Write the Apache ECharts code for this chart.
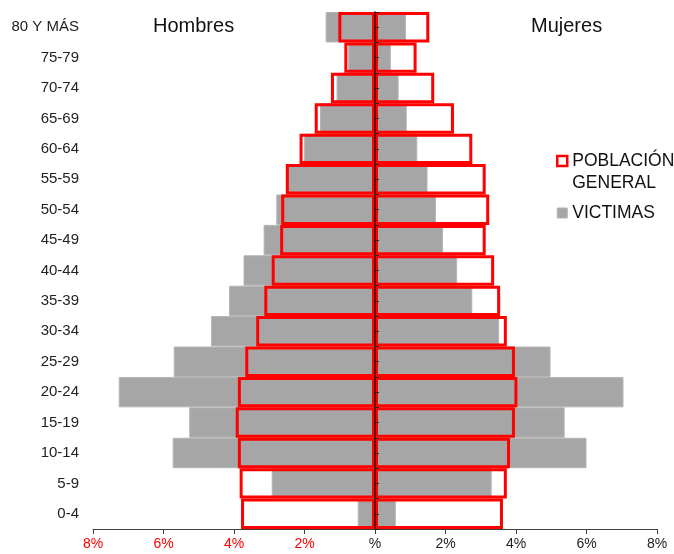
<!DOCTYPE html>
<html>
<head>
<meta charset="utf-8">
<script src="https://cdn.jsdelivr.net/npm/echarts@6/dist/echarts.min.js"></script>
<style>
html,body{margin:0;padding:0;background:#fff;}
#chart{width:674px;height:554px;}
</style>
</head>
<body>
<div id="chart"></div>
<script>
// Age groups, bottom to top
var categories = ['0-4','5-9','10-14','15-19','20-24','25-29','30-34','35-39','40-44','45-49','50-54','55-59','60-64','65-69','70-74','75-79','80 Y MÁS'];
// Percentages (men shown to the left)
var victimasHombres   = [0.49, 2.93, 5.74, 5.27, 7.27, 5.71, 4.65, 4.14, 3.73, 3.16, 2.80, 2.50, 2.01, 1.56, 1.09, 0.76, 1.40];
var victimasMujeres   = [0.59, 3.31, 6.00, 5.38, 7.05, 4.98, 3.52, 2.76, 2.33, 1.93, 1.73, 1.49, 1.20, 0.90, 0.67, 0.45, 0.88];
var poblacionHombres  = [3.80, 3.84, 3.89, 3.95, 3.89, 3.68, 3.37, 3.14, 2.93, 2.69, 2.66, 2.53, 2.14, 1.71, 1.25, 0.87, 1.04];
var poblacionMujeres  = [3.63, 3.74, 3.83, 3.97, 4.04, 3.97, 3.74, 3.55, 3.38, 3.14, 3.24, 3.14, 2.76, 2.24, 1.68, 1.18, 1.54];
var xTicks = {min: -8, max: 8, interval: 2};

var FONT = "'Liberation Sans', Arial, sans-serif";
var neg = function (a) { return a.map(function (v) { return -v; }); };

var chart = echarts.init(document.getElementById('chart'), null, {renderer: 'canvas'});

var grayStyle = {color: '#a6a6a6', borderColor: '#b4b4b4', borderWidth: 1};
var redStyle = {color: 'transparent', borderColor: '#ff0000', borderWidth: 3};

var option = {
  animation: false,
  backgroundColor: '#ffffff',
  textStyle: {fontFamily: FONT},
  title: [
    {text: 'Hombres', left: 153, top: 16, padding: 0, textStyle: {fontFamily: FONT, fontSize: 20, fontWeight: 'normal', color: '#111'}},
    {text: 'Mujeres', left: 531, top: 16, padding: 0, textStyle: {fontFamily: FONT, fontSize: 20, fontWeight: 'normal', color: '#111'}}
  ],
  legend: {
    orient: 'vertical',
    left: 556,
    top: 128,
    padding: 0,
    itemGap: 8,
    itemWidth: 10,
    itemHeight: 10,
    icon: 'rect',
    selectedMode: false,
    formatter: function (name) {
      return name === 'POBLACIÓN GENERAL' ? ' \nPOBLACIÓN\nGENERAL' : name;
    },
    textStyle: {fontFamily: FONT, fontSize: 17.5, lineHeight: 22, color: '#111'},
    data: [
      {name: 'POBLACIÓN GENERAL', itemStyle: {color: '#ffffff', borderColor: '#ff0000', borderWidth: 2.5}},
      {name: 'VICTIMAS', itemStyle: {color: '#a6a6a6', borderColor: '#b4b4b4', borderWidth: 1}}
    ]
  },
  grid: {left: 93, right: 17, top: 12, bottom: 25, containLabel: false},
  xAxis: {
    type: 'value',
    min: xTicks.min, max: xTicks.max, interval: xTicks.interval,
    axisLine: {show: true, onZero: false, lineStyle: {color: '#404040', width: 1}},
    axisTick: {show: true, length: 5, lineStyle: {color: '#404040'}},
    splitLine: {show: false},
    axisLabel: {
      fontFamily: FONT, fontSize: 14, margin: 8,
      color: function (v) { return Number(v) < 0 ? '#ff0000' : '#222222'; },
      formatter: function (v) { return v === 0 ? '%' : Math.abs(v) + '%'; }
    }
  },
  yAxis: [
    {
      type: 'category',
      data: categories,
      position: 'left',
      axisLine: {show: false, onZero: false},
      axisTick: {show: false},
      axisLabel: {fontFamily: FONT, fontSize: 15, color: '#222222', margin: 14}
    },
    {
      type: 'value',
      min: 0, max: categories.length, interval: 0.5,
      position: 'left',
      z: 10,
      axisLine: {show: true, onZero: true, lineStyle: {color: '#400000', width: 1.5}},
      axisTick: {show: true, inside: true, length: 4, lineStyle: {color: '#222'}},
      axisLabel: {show: false},
      splitLine: {show: false}
    }
  ],
  series: [
    {name: 'VICTIMAS', type: 'bar', yAxisIndex: 0, data: neg(victimasHombres), barGap: '-100%', barCategoryGap: '0%', itemStyle: grayStyle, z: 2},
    {name: 'VICTIMAS', type: 'bar', yAxisIndex: 0, data: victimasMujeres, barGap: '-100%', barCategoryGap: '0%', itemStyle: grayStyle, z: 2},
    {name: 'POBLACIÓN GENERAL', type: 'bar', yAxisIndex: 0, data: neg(poblacionHombres), barGap: '-100%', barCategoryGap: '0%', itemStyle: redStyle, z: 3},
    {name: 'POBLACIÓN GENERAL', type: 'bar', yAxisIndex: 0, data: poblacionMujeres, barGap: '-100%', barCategoryGap: '0%', itemStyle: redStyle, z: 3}
  ]
};
chart.setOption(option);
</script>
</body>
</html>
